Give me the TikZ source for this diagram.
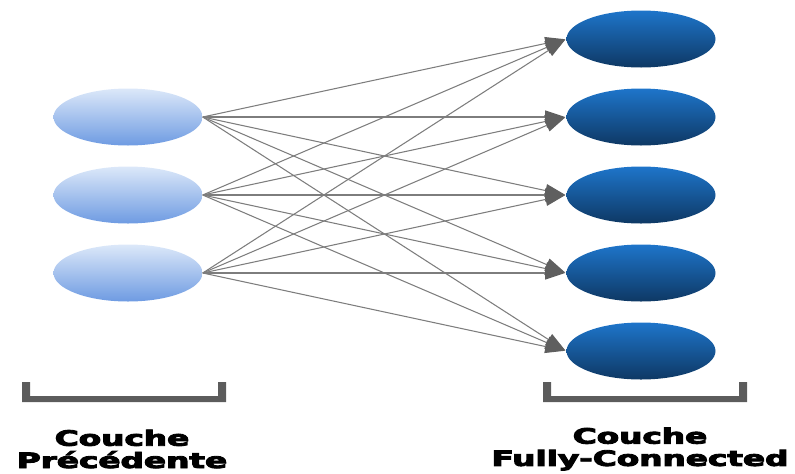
\documentclass[tikz,border=0pt]{standalone}
\usepackage{fontspec}
\usetikzlibrary{arrows.meta,shapes.geometric}
\newfontfamily\heavyfont{DejaVu Sans}[UprightFont={* Bold},FakeBold=4]
\definecolor{prevtop}{RGB}{220,232,249}
\definecolor{prevbot}{RGB}{110,155,226}
\definecolor{fctop}{RGB}{30,117,202}
\definecolor{fcbot}{RGB}{14,56,100}
\definecolor{linkgray}{RGB}{125,125,125}
\definecolor{tipgray}{RGB}{95,95,95}
\definecolor{brackgray}{RGB}{92,92,92}

\begin{document}
\begin{tikzpicture}[x=0.03cm,y=-0.03cm,
    neuron/.style={ellipse,minimum width=149*0.03cm,minimum height=57*0.03cm,inner sep=0pt,draw=none},
    prevneuron/.style={neuron,top color=prevtop,bottom color=prevbot},
    fcneuron/.style={neuron,top color=fctop,bottom color=fcbot},
    link/.style={-{Triangle[length=20*0.85pt,width=13*0.85pt,fill=tipgray,color=tipgray]},draw=linkgray,line width=0.9pt,shorten >=1pt},
    layerlabel/.style={font=\heavyfont\fontsize{18}{19}\selectfont,align=center,inner sep=0pt,xscale=1.55,transform shape}]
  \useasboundingbox (0,0) rectangle (795,473);
  % previous layer
  \foreach \i/\y in {1/117,2/195,3/273}
    \node[prevneuron] (p\i) at (128,\y) {};
  % fully-connected layer
  \foreach \j/\y in {1/39,2/117,3/195,4/273,5/351}
    \node[fcneuron] (f\j) at (641,\y) {};
  % connections
  \foreach \i in {1,2,3}
    \foreach \j in {1,...,5}
      \draw[link] (p\i.east) -- (f\j.west);
  % brackets
  \fill[brackgray] (22,382) rectangle (30,402) (22,396) rectangle (226,402) (218,382) rectangle (226,402);
  \fill[brackgray] (543,382) rectangle (551,402) (543,396) rectangle (747,402) (739,382) rectangle (747,402);
  % labels
  \node[layerlabel] (lprev) at (122,449) {Couche\\Précédente};
  \node[layerlabel] (lfc) at (640,449) {Couche\\Fully-Connected};
\end{tikzpicture}
\end{document}
